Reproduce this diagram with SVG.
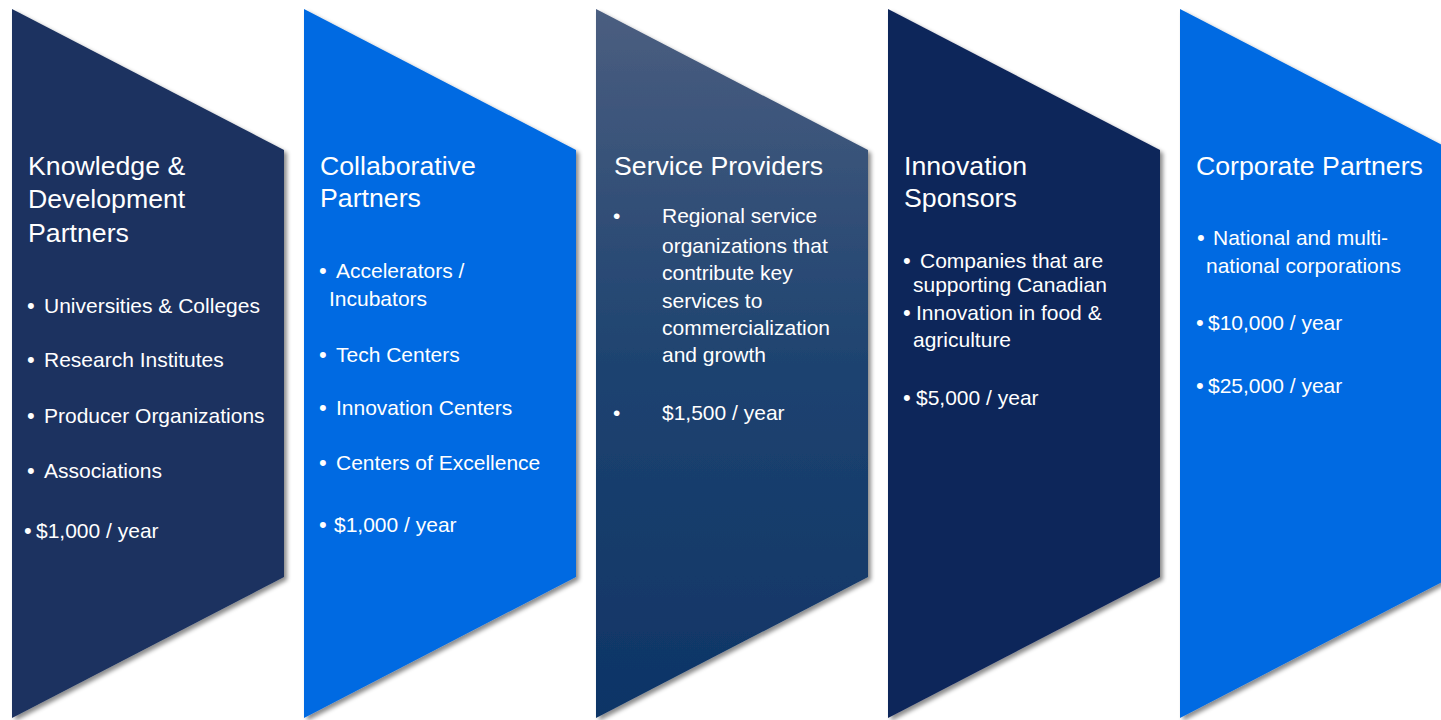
<svg xmlns="http://www.w3.org/2000/svg" width="1441" height="720" viewBox="0 0 1441 720">
  <defs>
    <filter id="shadow" x="-10%" y="-10%" width="130%" height="130%">
      <feDropShadow dx="3" dy="3" stdDeviation="2.2" flood-color="#000" flood-opacity="0.45"/>
    </filter>
    <linearGradient id="grad3" x1="0" y1="0" x2="0" y2="1">
      <stop offset="0" stop-color="#4B5E80"/>
      <stop offset="0.5" stop-color="#1E4370"/>
      <stop offset="1" stop-color="#0E3466"/>
    </linearGradient>
    <style>
      .shape { filter: url(#shadow); }
      .title { font-family: "Liberation Sans", Arial, sans-serif; font-size: 26.7px; fill: #FFFFFF; }
      .body { font-family: "Liberation Sans", Arial, sans-serif; font-size: 21px; fill: #FFFFFF; }
      .dot { font-size: 22px; }
    </style>
  </defs>
  <rect width="1441" height="720" fill="#FFFFFF"/>

  <g id="knowledge-development-partners">
    <polygon class="shape" points="12,9 284,150 284,577 12,718" fill="#1B3260"/>
    <text class="title" x="28" y="175">Knowledge &amp;</text>
    <text class="title" x="28" y="208">Development</text>
    <text class="title" x="28" y="242">Partners</text>
    <text class="body" y="313"><tspan class="dot" x="27">•</tspan><tspan x="44">Universities &amp; Colleges</tspan></text>
    <text class="body" y="367"><tspan class="dot" x="27">•</tspan><tspan x="44">Research Institutes</tspan></text>
    <text class="body" y="423"><tspan class="dot" x="27">•</tspan><tspan x="44">Producer Organizations</tspan></text>
    <text class="body" y="478"><tspan class="dot" x="27">•</tspan><tspan x="44">Associations</tspan></text>
    <text class="body" y="538"><tspan class="dot" x="24">•</tspan><tspan x="36">$1,000 / year</tspan></text>
  </g>

  <g id="collaborative-partners">
    <polygon class="shape" points="304,9 576,150 576,577 304,718" fill="#066BE2"/>
    <text class="title" x="320" y="175">Collaborative</text>
    <text class="title" x="320" y="207">Partners</text>
    <text class="body" y="278"><tspan class="dot" x="319">•</tspan><tspan x="336">Accelerators /</tspan></text>
    <text class="body" x="329" y="306">Incubators</text>
    <text class="body" y="362"><tspan class="dot" x="319">•</tspan><tspan x="336">Tech Centers</tspan></text>
    <text class="body" y="415"><tspan class="dot" x="319">•</tspan><tspan x="336">Innovation Centers</tspan></text>
    <text class="body" y="470"><tspan class="dot" x="319">•</tspan><tspan x="336">Centers of Excellence</tspan></text>
    <text class="body" y="532"><tspan class="dot" x="319">•</tspan><tspan x="334">$1,000 / year</tspan></text>
  </g>

  <g id="service-providers">
    <polygon class="shape" points="596,9 868,150 868,577 596,718" fill="url(#grad3)"/>
    <text class="title" x="614" y="175">Service Providers</text>
    <text class="body" x="613" y="223">•</text>
    <text class="body" x="662" y="223">Regional service</text>
    <text class="body" x="662" y="253">organizations that</text>
    <text class="body" x="662" y="280">contribute key</text>
    <text class="body" x="662" y="308">services to</text>
    <text class="body" x="662" y="335">commercialization</text>
    <text class="body" x="662" y="362">and growth</text>
    <text class="body" x="613" y="420">•</text>
    <text class="body" x="662" y="420">$1,500 / year</text>
  </g>

  <g id="innovation-sponsors">
    <polygon class="shape" points="888,9 1160,150 1160,577 888,718" fill="#0D255A"/>
    <text class="title" x="904" y="175">Innovation</text>
    <text class="title" x="904" y="207">Sponsors</text>
    <text class="body" y="268"><tspan class="dot" x="903">•</tspan><tspan x="920">Companies that are</tspan></text>
    <text class="body" x="913" y="292">supporting Canadian</text>
    <text class="body" y="320"><tspan class="dot" x="903">•</tspan><tspan x="916">Innovation in food &amp;</tspan></text>
    <text class="body" x="913" y="347">agriculture</text>
    <text class="body" y="405"><tspan class="dot" x="903">•</tspan><tspan x="916">$5,000 / year</tspan></text>
  </g>

  <g id="corporate-partners">
    <polygon class="shape" points="1180,9 1452,150 1452,577 1180,718" fill="#066BE2"/>
    <text class="title" x="1196" y="175">Corporate Partners</text>
    <text class="body" y="245"><tspan class="dot" x="1197">•</tspan><tspan x="1213">National and multi-</tspan></text>
    <text class="body" x="1206" y="273">national corporations</text>
    <text class="body" y="330"><tspan class="dot" x="1196">•</tspan><tspan x="1208">$10,000 / year</tspan></text>
    <text class="body" y="393"><tspan class="dot" x="1196">•</tspan><tspan x="1208">$25,000 / year</tspan></text>
  </g>
</svg>
